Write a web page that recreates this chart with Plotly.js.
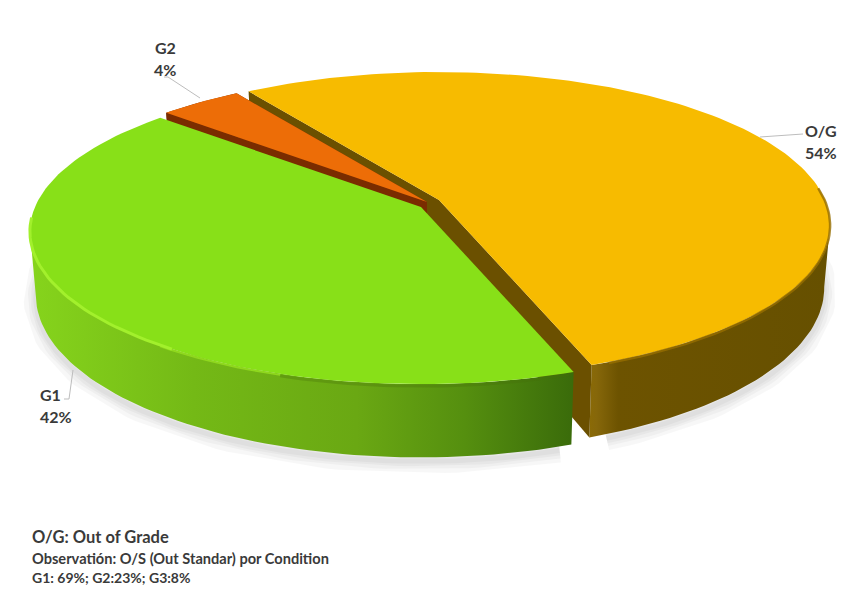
<!DOCTYPE html>
<html><head><meta charset="utf-8">
<script src="https://cdn.plot.ly/plotly-3.0.1.min.js"></script>
<style>html,body{margin:0;padding:0;background:#fff}</style>
</head><body><div id="chart" style="width:852px;height:600px"></div>
<script>
// Data
const categories = ["O/G", "G1", "G2"];
const shares = [54, 42, 4];
const footnotes = ["O/G: Out of Grade", "Observatión: O/S (Out Standar) por Condition", "G1: 69%; G2:23%; G3:8%"];

// Projection of the tilted, exploded disc (screen pixels as axis units)
const START = -34, RX = 386, RY = 148.6, PERSP = 0.161, DEPTH = 61.5, SHRINK = 0.985;
const apexes = {"O/G": [439, 200], "G1": [421, 207], "G2": [427, 202]};
const topColors = {"O/G": "#f7bb00", "G1": "#88e018", "G2": "#ed6d07"};
const cutColors = {"O/G": "#6b5000", "G1": "#4e8a0c", "G2": "#7a2c00"};
const wallSpan = {"O/G": [99, null], "G1": [null, 261], "G2": [null, null]};
const wallScales = {
  "O/G": [[0,"#8a6a06"],[0.03,"#86670a"],[0.12,"#6d5300"],[1,"#665000"]],
  "G1": [[0,"#86d41c"],[0.3,"#74b916"],[0.6,"#6aa813"],[0.8,"#558f0f"],[1,"#3a6b0a"]],
  "G2": [[0,"#7a2c00"],[1,"#7a2c00"]]
};

function project(apex, deg) {
  const t = deg * Math.PI / 180, u = Math.sin(t), v = -Math.cos(t), w = 1 - PERSP * v;
  return {x: apex[0] + RX * u / w, y: apex[1] + RY * v / w, w};
}
function arc(apex, a0, a1) {
  const pts = [], n = Math.max(2, Math.ceil(Math.abs(a1 - a0) / 1.5));
  for (let i = 0; i <= n; i++) pts.push(project(apex, a0 + (a1 - a0) * i / n));
  return pts;
}
function lower(apex, p) {
  return {x: apex[0] + (p.x - apex[0]) * SHRINK, y: p.y + DEPTH / p.w};
}
const poly = (pts, extra) => Object.assign({
  x: pts.map(p => p.x), y: pts.map(p => p.y), type: "scatter", mode: "lines",
  fill: "toself", line: {width: 0}, hoverinfo: "skip", showlegend: false
}, extra);
const stroke = (pts, dy, width, color) => ({
  x: pts.map(p => p.x), y: pts.map(p => p.y + dy), type: "scatter", mode: "lines",
  line: {width, color}, hoverinfo: "skip", showlegend: false
});

let acc = START;
const slices = categories.map((c, i) => {
  const a0 = acc, a1 = acc + shares[i] * 3.6; acc = a1;
  return {c, a0, a1, apex: apexes[c]};
});
const byName = n => slices.find(s => s.c === n);
const traces = [];

// soft ground shadow beneath the front rim
const shadowPts = arc(byName("G1").apex, 162, 285).map(p => lower(byName("G1").apex, p));
const shadowPts2 = arc(byName("O/G").apex, 80, 158).map(p => lower(byName("O/G").apex, p));
[24, 16, 10, 5].forEach(wd => {
  [shadowPts, shadowPts2].forEach(s => traces.push(stroke(s, 4, wd, "rgba(0,0,0,0.03)")));
});

// draw order: O/G, G2, G1
["O/G", "G2", "G1"].forEach(n => {
  const s = byName(n), rim = arc(s.apex, s.a0, s.a1), A = s.apex;
  const w0 = wallSpan[n][0] === null ? s.a0 : wallSpan[n][0];
  const w1 = wallSpan[n][1] === null ? s.a1 : wallSpan[n][1];
  const wallRim = arc(A, w0, w1);
  const bottom = wallRim.map(p => lower(A, p)).reverse();
  traces.push(poly([...wallRim, ...bottom, wallRim[0]], {
    fillcolor: cutColors[n],
    fillgradient: {type: "horizontal", colorscale: wallScales[n]}
  }));
  // cut faces from apex to each rim end
  const apexLow = {x: A[0], y: A[1] + DEPTH};
  [rim[0], rim[rim.length - 1]].forEach(e => {
    if (n === "G1") return;
    traces.push(poly([{x: A[0], y: A[1]}, e, lower(A, e), apexLow], {fillcolor: cutColors[n]}));
  });
  // top face
  traces.push(poly([{x: A[0], y: A[1]}, ...rim, {x: A[0], y: A[1]}], {fillcolor: topColors[n]}));
});

// bevels: bright on the G1 rim fading to a soft shade, dark blur on the O/G rim
const g1 = byName("G1"), og = byName("O/G");
traces.push(stroke(arc(g1.apex, 161, 198), 2, 3, "rgba(70,110,10,0.3)"));
traces.push(stroke(arc(g1.apex, 198, 216), 1, 2, "#8fd81e"));
traces.push(stroke(arc(g1.apex, 214, 266), 0, 3, "#a2f02c"));
traces.push(stroke(arc(og.apex, 85, 158), 1, 2.5, "rgba(150,110,0,0.8)"));

const labelPos = {"O/G": [805, 130, "left"], "G1": [40, 394, "left"], "G2": [165, 47, "center"]};
const annotations = [];
const note = (x, y, text, size, anchor) => annotations.push({
  x, y, text, xref: "x", yref: "y", showarrow: false, xanchor: anchor, yanchor: "middle",
  font: {family: "Lato, Carlito, sans-serif", size, color: "#3a3a3a", weight: 700}, borderpad: 0, borderwidth: 0
});
categories.forEach((c, i) => {
  const [x, y, a] = labelPos[c];
  note(x, y, c, 16, a);
  note(x, y + 22, shares[i] + "%", 16, a);
});
note(32, 537, footnotes[0], 16.5, "left");
note(32, 558, footnotes[1], 14.6, "left");
note(32, 577, footnotes[2], 14, "left");

const leader = (xs, ys) => ({type: "path", xref: "x", yref: "y",
  path: "M" + xs.map((x, i) => x + " " + ys[i]).join(" L"), line: {color: "#bdbdbd", width: 1}});

Plotly.newPlot("chart", traces, {
  width: 852, height: 600, margin: {l: 0, r: 0, t: 0, b: 0},
  paper_bgcolor: "#fff", plot_bgcolor: "#fff", showlegend: false,
  xaxis: {range: [0, 852], visible: false, fixedrange: true},
  yaxis: {range: [600, 0], visible: false, fixedrange: true},
  annotations,
  shapes: [leader([164,168,200],[77,77,98]), leader([760,803],[137,134]), leader([73,69,64],[370,399,399])]
}, {displayModeBar: false, staticPlot: true});
</script></body></html>
